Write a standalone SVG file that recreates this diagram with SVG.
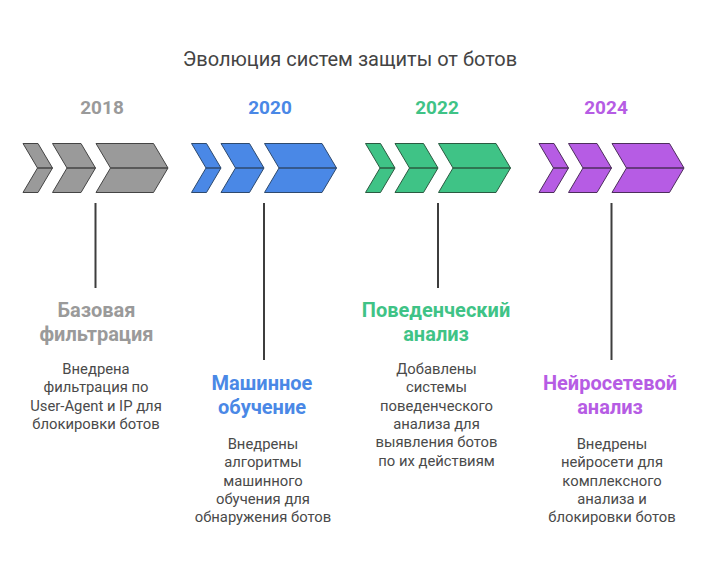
<svg xmlns="http://www.w3.org/2000/svg" width="708" height="576" viewBox="0 0 708 576">
<style>
text{font-family:Roboto,"Liberation Sans",sans-serif;text-anchor:middle}
.title{font-size:20px;fill:#444444}
.year{font-size:19px;font-weight:bold}
.head{font-size:20px;font-weight:bold}
.desc{font-size:14.8px;fill:#4a4a4a}
.conn{stroke:#3d3d3d;stroke-width:2;fill:none}
.gray{fill:#9a9a9a;stroke:#444444}
.blue{fill:#4a88e6;stroke:#2e4a6e}
.green{fill:#3fc386;stroke:#2b5a41}
.purple{fill:#b65ce4;stroke:#4d2e5c}
.chev path{stroke-width:2;stroke-linejoin:round}
</style>
<defs>
<g id="chev">
<path d="M0,143.5 H15 L29.5,168 H14.5 Z M14.5,168 H29.5 L15,192.5 H0 Z"/>
<path d="M29.5,143.5 H58 L72.5,168 H44 Z M44,168 H72.5 L58,192.5 H29.5 Z"/>
<path d="M73,143.5 H130.5 L145,168 H87.5 Z M87.5,168 H145 L130.5,192.5 H73 Z"/>
</g>
</defs>
<text class="title" x="350" y="66">Эволюция систем защиты от ботов</text>
<g id="connectors">
<line class="conn" x1="95.5" y1="203" x2="95.5" y2="288"/>
<line class="conn" x1="264" y1="203" x2="264" y2="360"/>
<line class="conn" x1="438" y1="203" x2="438" y2="288"/>
<line class="conn" x1="611.5" y1="203" x2="611.5" y2="360"/>
</g>
<g id="node-2018">
<text class="year" x="102" y="113.5" fill="#9a9a9a">2018</text>
<g class="chev gray" transform="translate(23,0)"><use href="#chev"/></g>
<text class="head" x="96.5" y="317" fill="#9a9a9a">Базовая</text>
<text class="head" x="96.5" y="341" fill="#9a9a9a">фильтрация</text>
<text class="desc" x="96" y="374">Внедрена</text>
<text class="desc" x="96" y="392.3">фильтрация по</text>
<text class="desc" x="96" y="410.6">User-Agent и IP для</text>
<text class="desc" x="96" y="429">блокировки ботов</text>
</g>
<g id="node-2020">
<text class="year" x="270" y="113.5" fill="#4a88e6">2020</text>
<g class="chev blue" transform="translate(191.5,0)"><use href="#chev"/></g>
<text class="head" x="262" y="390" fill="#4a88e6">Машинное</text>
<text class="head" x="262" y="414" fill="#4a88e6">обучение</text>
<text class="desc" x="263" y="449">Внедрены</text>
<text class="desc" x="263" y="467.3">алгоритмы</text>
<text class="desc" x="263" y="485.6">машинного</text>
<text class="desc" x="263" y="504">обучения для</text>
<text class="desc" x="263" y="522.3">обнаружения ботов</text>
</g>
<g id="node-2022">
<text class="year" x="437" y="113.5" fill="#3fc386">2022</text>
<g class="chev green" transform="translate(365.5,0)"><use href="#chev"/></g>
<text class="head" x="436" y="317" fill="#3fc386">Поведенческий</text>
<text class="head" x="436" y="341" fill="#3fc386">анализ</text>
<text class="desc" x="436.5" y="374">Добавлены</text>
<text class="desc" x="436.5" y="392.3">системы</text>
<text class="desc" x="436.5" y="410.6">поведенческого</text>
<text class="desc" x="436.5" y="429">анализа для</text>
<text class="desc" x="436.5" y="447.3">выявления ботов</text>
<text class="desc" x="436.5" y="465.6">по их действиям</text>
</g>
<g id="node-2024">
<text class="year" x="606" y="113.5" fill="#b65ce4">2024</text>
<g class="chev purple" transform="translate(539,0)"><use href="#chev"/></g>
<text class="head" x="610" y="390" fill="#b65ce4">Нейросетевой</text>
<text class="head" x="610" y="414" fill="#b65ce4">анализ</text>
<text class="desc" x="612" y="449">Внедрены</text>
<text class="desc" x="612" y="467.3">нейросети для</text>
<text class="desc" x="612" y="485.6">комплексного</text>
<text class="desc" x="612" y="504">анализа и</text>
<text class="desc" x="612" y="522.3">блокировки ботов</text>
</g>
</svg>
